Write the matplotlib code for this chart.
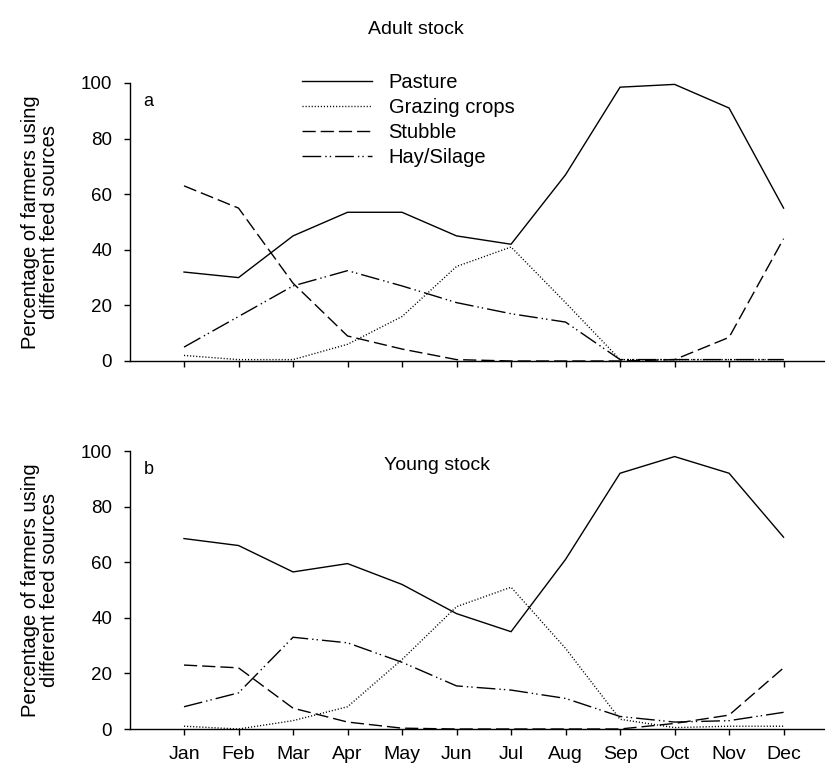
import matplotlib
matplotlib.use('Agg')
import matplotlib.pyplot as plt

plt.rcParams['font.family'] = ['Liberation Sans', 'DejaVu Sans']

months = ['Jan', 'Feb', 'Mar', 'Apr', 'May', 'Jun',
          'Jul', 'Aug', 'Sep', 'Oct', 'Nov', 'Dec']
series_names = ['Pasture', 'Grazing crops', 'Stubble', 'Hay/Silage']

# a) Adult stock
adult_pasture = [32, 30, 45, 53.5, 53.5, 45, 42, 67, 98.5, 99.5, 91, 55]
adult_grazing = [2, 0.5, 0.5, 6, 16, 34, 41, 21, 0.5, 0.5, 0.5, 0.5]
adult_stubble = [63, 55, 28, 9, 4.3, 0.5, 0, 0, 0, 0.5, 8.5, 44]
adult_hay = [5, 16, 27, 32.5, 27, 21, 17, 14, 0.5, 0.5, 0.5, 0.5]

# b) Young stock
young_pasture = [68.5, 66, 56.5, 59.5, 52, 41.5, 35, 61, 92, 98, 92, 69]
young_grazing = [1, 0, 3, 8, 25, 44, 51, 29, 3.5, 0.5, 1, 1]
young_stubble = [23, 22, 7.5, 2.5, 0.3, 0, 0, 0, 0, 2, 5, 22]
young_hay = [8, 13, 33, 31, 24, 15.5, 14, 11, 4.5, 2.5, 3, 6]

# solid / dotted / dashed / dash-dot-dot
styles = [
    '-',
    (0, (0.8, 1.4)),
    (0, (9.5, 3.6)),
    (0, (13.5, 2.9, 1, 2.2, 1, 2.9)),
]

fig = plt.figure(figsize=(8.25, 7.68), dpi=100)
ax_a = fig.add_axes([129.5 / 825, 1 - 361 / 768, 1 - 129.5 / 825, 278 / 768])
ax_b = fig.add_axes([129.5 / 825, 1 - 729 / 768, 1 - 129.5 / 825, 278 / 768])

x = list(range(1, 13))
panels = [
    (ax_a, [adult_pasture, adult_grazing, adult_stubble, adult_hay], 'a'),
    (ax_b, [young_pasture, young_grazing, young_stubble, young_hay], 'b'),
]

for ax, data, letter in panels:
    for vals, ls, name in zip(data, styles, series_names):
        ax.plot(x, vals, color='black', linestyle=ls, linewidth=1.0, label=name)
    ax.set_xlim(0, 12.76)
    ax.set_ylim(0, 100)
    ax.set_yticks([0, 20, 40, 60, 80, 100])
    ax.set_xticks(x)
    ax.spines['top'].set_visible(False)
    ax.spines['right'].set_visible(False)
    for sp in ['left', 'bottom']:
        ax.spines[sp].set_linewidth(1.0)
    ax.tick_params(direction='out', length=4.5, width=1.0, labelsize=13.5)
    ax.tick_params(axis='y', pad=8)
    ax.set_ylabel('Percentage of farmers using\ndifferent feed sources',
                  fontsize=14.5, labelpad=16, linespacing=0.95)
    ax.text(0.02, 0.965, letter, transform=ax.transAxes, fontsize=13,
            ha='left', va='top')

ax_a.set_xticklabels([])
ax_b.set_xticklabels(months, fontsize=14)
ax_b.tick_params(axis='x', pad=8)

fig.text(416 / 825, 1 - 29 / 768, 'Adult stock', fontsize=14,
         ha='center', va='center')
fig.text(437 / 825, 1 - 465 / 768, 'Young stock', fontsize=14,
         ha='center', va='center')

ax_a.legend(loc='upper left', bbox_to_anchor=(302 / 825, 1 - 73 / 768),
            bbox_transform=fig.transFigure, frameon=False, fontsize=14.5,
            handlelength=3.5, handletextpad=0.8, labelspacing=0.3,
            borderpad=0, borderaxespad=0)

fig.savefig('out.png', dpi=100)
